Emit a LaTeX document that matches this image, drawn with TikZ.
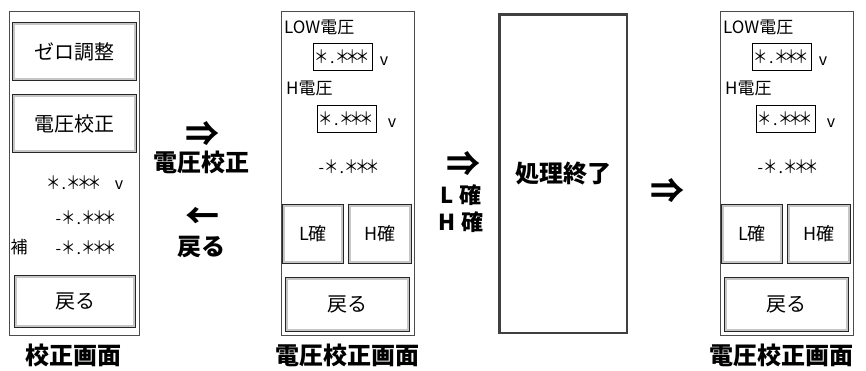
\documentclass[tikz,border=0pt]{standalone}
\usepackage{graphicx}
\usepackage{fontspec}
\setmainfont{Noto Sans CJK JP}
\newcommand\astk{\makebox[10.2pt]{\scalebox{0.8}[1]{\fontsize{18}{18}\selectfont ＊}}}
\newcommand\dotk{\makebox[10.2pt]{.}}
\newcommand\minusk{\makebox[10.2pt]{-}}
\newcommand\valtext{\astk\dotk\astk\astk\astk}
\newcommand\negvaltext{\minusk\astk\dotk\astk\astk\astk}
\begin{document}
\begin{tikzpicture}[x=1pt,y=-1pt,
 scr/.style={draw=black!70, line width=0.8pt, inner sep=0pt, fill=white},
 btn/.style={draw=black!85, double=gray!45, double distance=1.8pt, line width=0.7pt, fill=white, inner sep=0pt, font=\fontsize{20}{20}\selectfont},
 sbtn/.style={btn, font=\fontsize{18}{18}\selectfont},
 valbox/.style={draw=black, line width=0.8pt, inner sep=0pt, minimum width=59pt, minimum height=27pt, font=\fontsize{16}{16}\selectfont},
 val/.style={inner sep=0pt, font=\fontsize{16}{16}\selectfont},
 small/.style={inner sep=0pt, font=\fontsize{17}{17}\selectfont},
 unit/.style={inner sep=0pt, font=\fontsize{16}{16}\selectfont},
 lbl/.style={inner sep=0pt, font=\fontsize{24}{24}\selectfont\bfseries},
 arr/.style={inner sep=0pt, font=\fontsize{22}{22}\selectfont\bfseries},
 arrow/.style={inner sep=0pt, font=\fontsize{34}{34}\selectfont\bfseries},
 endbox/.style={draw=black!75, line width=2.5pt, inner sep=0pt, fill=white, font=\fontsize{24}{24}\selectfont\bfseries}
]
\useasboundingbox (0,0) rectangle (866,370);
% ---- left screen
\node[scr, minimum width=130pt, minimum height=324pt] (s1) at (74,173) {};
\node[btn, minimum width=121.4pt, minimum height=55.4pt] (zero) at (74.5,51.5) {ゼロ調整};
\node[btn, minimum width=121.4pt, minimum height=55.4pt] (volt) at (74.5,123.5) {電圧校正};
\node[val] (v1) at (74,183) {\valtext};
\node[unit] (u1) at (119,185) {v};
\node[val] (v2) at (84,218) {\negvaltext};
\node[small] (ho) at (19,247) {補};
\node[val] (v3) at (84,248) {\negvaltext};
\node[btn, minimum width=118.4pt, minimum height=49.4pt] (back1) at (75,301.5) {戻る};
\node[lbl] (t1) at (73,355) {校正画面};
% ---- arrows between 1 and 2
\node[arrow] (a1) at (202,134) {⇒};
\node[lbl] (a1t) at (201,162) {電圧校正};
\node[arrow] (a2) at (202,218) {←};
\node[lbl] (a2t) at (201,247) {戻る};
% ---- middle and right screens
\foreach \dx/\nm in {0/m, 439/r}{
 \node[scr, minimum width=133pt, minimum height=324pt] (\nm s) at (347.5+\dx,173) {};
 \node[small, anchor=west] (\nm low) at (284+\dx,27) {LOW電圧};
 \node[valbox] (\nm b1) at (342.5+\dx,56.5) {\valtext};
 \node[unit] (\nm u1) at (384+\dx,61) {v};
 \node[small, anchor=west] (\nm hi) at (286+\dx,88) {H電圧};
 \node[valbox] (\nm b2) at (346.5+\dx,118.5) {\valtext};
 \node[unit] (\nm u2) at (392+\dx,123) {v};
 \node[val] (\nm v) at (347+\dx,167) {\negvaltext};
 \node[sbtn, minimum width=58.4pt, minimum height=56.4pt] (\nm l) at (313+\dx,234) {L確};
 \node[sbtn, minimum width=60.4pt, minimum height=56.4pt] (\nm h) at (380+\dx,234) {H確};
 \node[btn, minimum width=121.4pt, minimum height=51.4pt] (\nm back) at (347.5+\dx,304.5) {戻る};
}
\node[lbl] (t2) at (347,355) {電圧校正画面};
\node[lbl] (t3) at (781,355) {電圧校正画面};
% ---- arrows between 2 and 3
\node[arrow] (a3) at (463,164) {⇒};
\node[arr] (a3l) at (461,195) {L 確};
\node[arr] (a3h) at (461,222) {H 確};
% ---- end box
\node[endbox, minimum width=127.5pt, minimum height=318.5pt] (end) at (563,173.5) {処理終了};
\node[arrow] (a4) at (667,191) {⇒};
\end{tikzpicture}
\end{document}
